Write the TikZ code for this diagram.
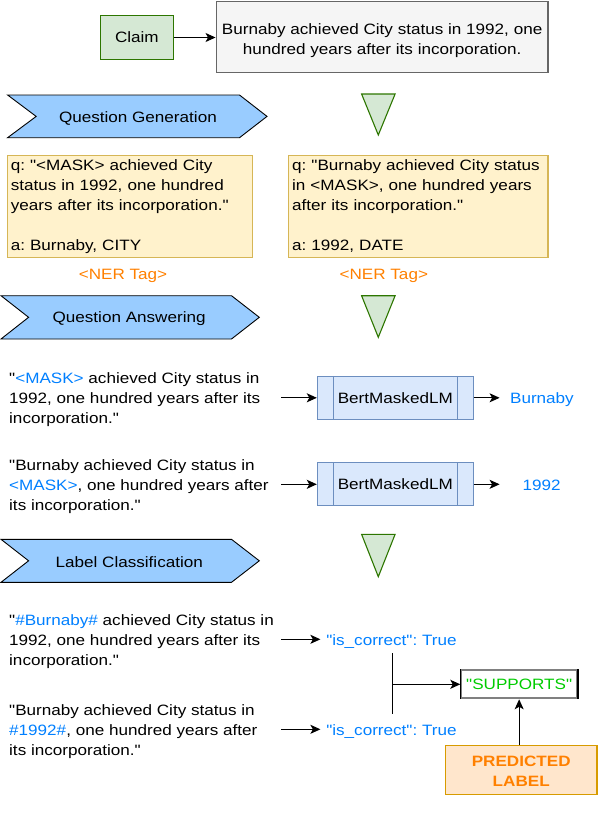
\documentclass[tikz,border=0pt]{standalone}
\usepackage{fontspec}
\setmainfont[FakeStretch=1.14,Ligatures=TeXOff]{Liberation Sans}
\usetikzlibrary{arrows.meta}
\definecolor{cgreen}{HTML}{2D7600}
\definecolor{cgreenfill}{HTML}{D5E8D4}
\definecolor{graystroke}{HTML}{666666}
\definecolor{grayfill}{HTML}{F5F5F5}
\definecolor{chevfill}{HTML}{99CCFF}
\definecolor{yfill}{HTML}{FFF2CC}
\definecolor{ystroke}{HTML}{D6B656}
\definecolor{bfill}{HTML}{DAE8FC}
\definecolor{bstroke}{HTML}{6C8EBF}
\definecolor{tblue}{HTML}{007FFF}
\definecolor{torange}{HTML}{FF8000}
\definecolor{tgreen}{HTML}{00CC00}
\definecolor{ofill}{HTML}{FFE6CC}
\definecolor{ostroke}{HTML}{D79B00}
\definecolor{supgray}{HTML}{808080}
\newcommand{\mytop}[1]{\rule{0pt}{#1pt}}
\newcommand{\mybot}[1]{\rule[-#1pt]{0pt}{#1pt}}
\frenchspacing
\begin{document}
\begin{tikzpicture}[x=1pt,y=-1pt,font=\fontsize{15}{20}\selectfont\frenchspacing,
  arr/.style={-{Stealth[length=10pt,width=9pt,inset=2.5pt]},line width=1.1pt},
  txt/.style={inner sep=0pt},
  ltxt/.style={inner sep=0pt,anchor=north west,align=left},
  chev/.style={draw=black,fill=chevfill,line width=0.9pt,line join=miter},
  tri/.style={draw=cgreen,fill=cgreenfill,line width=1.1pt,line join=miter},
  bert/.style={draw=bstroke,fill=bfill,line width=1pt,minimum width=156pt,minimum height=43pt,inner sep=0pt},
  qbox/.style={draw=ystroke,fill=yfill,line width=1.3pt,inner xsep=3.5pt,inner ysep=0pt,align=left}
]
\useasboundingbox (0,0) rectangle (598,828);

% --- claim ---
\node[draw=cgreen,fill=cgreenfill,line width=1.3pt,minimum width=73.2pt,minimum height=43.6pt,inner sep=0pt] (claim) at (136.9,37.5) {Claim};
\node[draw=graystroke,fill=grayfill,line width=1.3pt,minimum width=331.9pt,inner sep=0pt,align=center] (ctext) at (382.15,37.2)
  {\mytop{32.3}Burnaby achieved City status in 1992, one\\hundred years after its incorporation.\mybot{18.7}};
\draw[arr] (claim.east) -- (claim.east -| ctext.west);

% --- question generation ---
\draw[chev] (7.6,95) -- (239.5,95) -- (267,116.4) -- (239.5,137.7) -- (7.6,137.7) -- (36.2,116.4) -- cycle;
\node[txt,anchor=base] (qg) at (137.9,122) {Question Generation};
\draw[tri] (361.6,94) -- (395.1,94) -- (378.3,135) -- cycle;

\node[qbox,text width=238.2pt] (q1) at (129.9,206.5)
  {\mytop{15}q: "<MASK> achieved City\\status in 1992, one hundred\\years after its incorporation."\\[20pt]a: Burnaby, CITY\mybot{6.6}};
\node[qbox,text width=252.4pt] (q2) at (418.4,206.5)
  {\mytop{15}q: "Burnaby achieved City status\\in <MASK>, one hundred years\\after its incorporation."\\[20pt]a: 1992, DATE\mybot{6.6}};
\node[txt,anchor=base,text=torange] (ner1) at (123,279.4) {<NER Tag>};
\node[txt,anchor=base,text=torange] (ner2) at (383.8,279.4) {<NER Tag>};

% --- question answering ---
\draw[chev] (1,295.7) -- (231.5,295.7) -- (259.3,317.3) -- (231.5,339) -- (1,339) -- (28.6,317.3) -- cycle;
\node[txt,anchor=base] (qa) at (129.1,322.7) {Question Answering};
\draw[tri] (361.6,295.7) -- (395.1,295.7) -- (378.3,337.3) -- cycle;

\node[ltxt] (m1) at (9,371.5)
  {\mytop{12}"{\color{tblue}<MASK>} achieved City status in\\1992, one hundred years after its\\incorporation."};
\node[ltxt] (m2) at (9,458.7)
  {\mytop{12}"Burnaby achieved City status in\\{\color{tblue}<MASK>}, one hundred years after\\its incorporation."};

\node[bert] (b1) at (395.3,397.8) {BertMaskedLM};
\node[bert] (b2) at (395.3,484.3) {BertMaskedLM};
\foreach \b in {b1,b2}{
  \draw[draw=bstroke,line width=1pt] ([xshift=16.4pt]\b.north west) -- ([xshift=16.4pt]\b.south west);
  \draw[draw=bstroke,line width=1pt] ([xshift=-16.4pt]\b.north east) -- ([xshift=-16.4pt]\b.south east);
}
\node[txt,anchor=base west,text=tblue] (o1) at (509.9,403.5) {Burnaby};
\node[txt,anchor=base west,text=tblue] (o2) at (522.5,490.5) {1992};

\coordinate (s1) at (281.1,397.8);
\coordinate (s2) at (281.1,484.3);
\draw[arr] (s1) -- (s1 -| b1.west);
\draw[arr] (s2) -- (s2 -| b2.west);
\draw[arr,shorten >=10.3pt] (b1.east) -- (b1.east -| o1.west);
\draw[arr,shorten >=22.9pt] (b2.east) -- (b2.east -| o2.west);

% --- label classification ---
\draw[chev] (1,539.3) -- (231.5,539.3) -- (259.3,560.8) -- (231.5,582.3) -- (1,582.3) -- (28.6,560.8) -- cycle;
\node[txt,anchor=base] (lc) at (129.3,567) {Label Classification};
\draw[tri] (361.6,534.3) -- (395.1,534.3) -- (378.3,576.7) -- cycle;

\node[ltxt] (l1) at (9,613)
  {\mytop{12}"{\color{tblue}\#Burnaby\#} achieved City status in\\1992, one hundred years after its\\incorporation."};
\node[ltxt] (l2) at (9,703)
  {\mytop{12}"Burnaby achieved City status in\\{\color{tblue}\#1992\#}, one hundred years after\\its incorporation."};

\node[txt,anchor=base west,text=tblue] (c1) at (326.1,645) {"is\_correct": True};
\node[txt,anchor=base west,text=tblue] (c2) at (326.1,735) {"is\_correct": True};
\coordinate (s3) at (281.1,639.3);
\coordinate (s4) at (281.1,729.3);
\draw[arr,shorten >=5.7pt] (s3) -- (s3 -| c1.west);
\draw[arr,shorten >=5.7pt] (s4) -- (s4 -| c2.west);

\node[draw=supgray,fill=white,line width=2pt,minimum width=115.7pt,minimum height=28pt,inner sep=0pt,text=tgreen] (sup) at (519.15,684.3) {"SUPPORTS"};
\draw[black,line width=2pt] (sup.north east) -- (sup.south east);
\draw[black,line width=0.8pt] (sup.north west) -- (sup.south west);

\coordinate (j1) at (392.4,653.3);
\coordinate (j2) at (392.4,714.3);
\coordinate (jm) at (392.4,684.3);
\draw[line width=1pt] (j1) -- (j2);
\draw[arr] (jm) -- (sup.west);

\node[draw=ostroke,fill=ofill,line width=1.3pt,minimum width=151.4pt,inner sep=0pt,align=center,text=torange,font=\fontsize{15}{20}\selectfont\bfseries] (pred) at (521.2,770)
  {\mytop{20.3}PREDICTED\\LABEL\mybot{8.3}};
\draw[arr] (pred.north -| sup.south) -- (sup.south);
\end{tikzpicture}
\end{document}
